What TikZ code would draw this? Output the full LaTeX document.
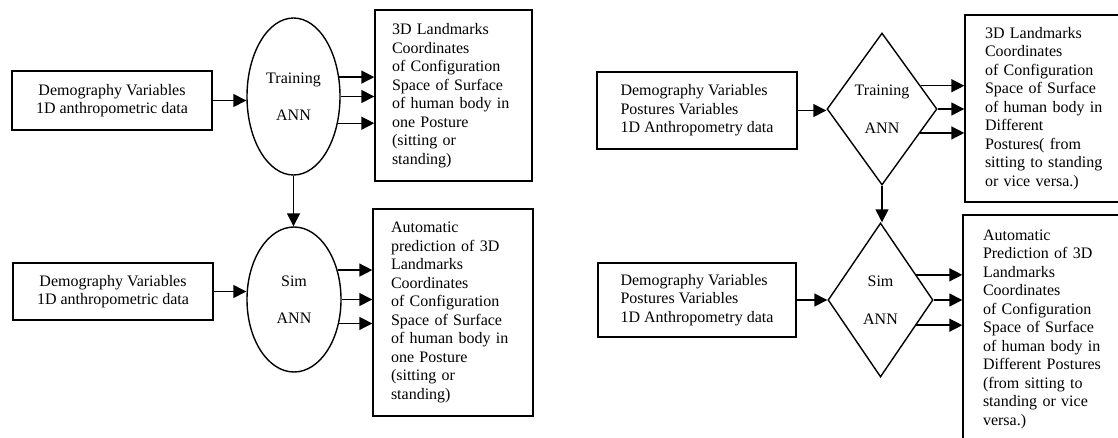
\documentclass[tikz,border=0pt]{standalone}
\usepackage{fontspec}
\setmainfont{Liberation Serif}
\usepackage{tikz}
\usetikzlibrary{shapes.geometric,arrows.meta}

\begin{document}
\begin{tikzpicture}[x=1pt, y=-1pt, line width=1.4pt,
		font=\fontsize{16}{18.5}\selectfont,
		>={Triangle[length=13pt,width=13pt]},
		databox/.style={draw, rectangle, align=center, inner sep=0pt},
		outbox/.style={draw, rectangle, align=left, inner xsep=20pt, inner ysep=0pt},
		ann/.style={draw, ellipse, align=center, inner sep=0pt},
		dia/.style={draw, diamond, align=center, inner sep=0pt, aspect=0.7}]
		\useasboundingbox (0,0) rectangle (1118,437);
		\clip (0,0) rectangle (1118,437);

		\node[databox, minimum width=200pt, minimum height=59pt] (demo1) at (112,100.5) {Demography Variables\\1D anthropometric data};
		\node[ann, minimum width=93pt, minimum height=157pt] (train1) at (293.5,96.5) {Training\\[19pt]ANN};
		\node[outbox, inner xsep=17pt, text width=123pt, minimum height=171pt] (land1) at (453.5,95.5) {3D Landmarks\\Coordinates\\of Configuration\\Space of Surface\\of human body in\\one Posture\\(sitting or\\standing)};
		\node[databox, minimum width=200pt, minimum height=57pt] (demo2) at (113,291.5) {Demography Variables\\1D anthropometric data};
		\node[ann, minimum width=94pt, minimum height=145pt] (sim1) at (294,299.5) {Sim\\[18pt]ANN};
		\node[outbox, inner xsep=18pt, text width=124pt, minimum height=207pt] (land2) at (453,312.5) {Automatic\\prediction of 3D\\Landmarks\\Coordinates\\of Configuration\\Space of Surface\\of human body in\\one Posture\\(sitting or\\standing)};

		\node[databox, align=left, minimum width=200pt, minimum height=77pt] (demo3) at (697,110.5) {Demography Variables\\Postures Variables\\1D Anthropometry data};
		\node[dia, minimum width=110pt, minimum height=152pt] (train2) at (882,109) {Training\\[19pt]ANN};
		\node[outbox, text width=160pt, minimum height=187pt] (land3) at (1065,108.5) {3D Landmarks\\Coordinates\\of Configuration\\Space of Surface\\of human body in\\Different\\Postures( from\\sitting to standing\\or vice versa.)};
		\node[databox, align=left, minimum width=198pt, minimum height=74pt] (demo4) at (697,300) {Demography Variables\\Postures Variables\\1D Anthropometry data};
		\node[dia, minimum width=105pt, minimum height=154pt] (sim2) at (880.5,300) {Sim\\[19pt]ANN};
		\node[outbox, text width=160pt, minimum height=228pt] (land4) at (1063,329) {Automatic\\Prediction of 3D\\Landmarks\\Coordinates\\of Configuration\\Space of Surface\\of human body in\\Different Postures\\(from sitting to\\standing or vice\\versa.)};

		\path[->]
		(demo1.east) edge (demo1.east -| train1.west)
		(train1.23) edge (train1.23 -| land1.west)
		(train1.east) edge (train1.east -| land1.west)
		(train1.-31) edge (train1.-31 -| land1.west)
		(train1.south) edge (train1.south |- sim1.north)
		(demo2.east) edge (demo2.east -| sim1.west)
		(sim1.34) edge (sim1.34 -| land2.west)
		(sim1.east) edge (sim1.east -| land2.west)
		(sim1.-28) edge (sim1.-28 -| land2.west);
		\path[->]
		(demo3.east) edge (demo3.east -| train2.west)
		(train2.31) edge (train2.31 -| land3.west)
		(train2.east) edge (train2.east -| land3.west)
		(train2.-32) edge (train2.-32 -| land3.west)
		(train2.south) edge (train2.south |- sim2.north)
		(demo4.east) edge (demo4.east -| sim2.west)
		(sim2.35) edge (sim2.35 -| land4.west)
		(sim2.east) edge (sim2.east -| land4.west)
		(sim2.-35) edge (sim2.-35 -| land4.west);
	\end{tikzpicture}
\end{document}
